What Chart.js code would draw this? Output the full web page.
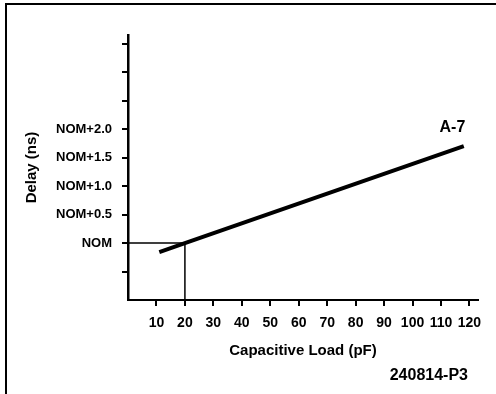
<!DOCTYPE html>
<html>
<head>
<meta charset="utf-8">
<script src="https://cdn.jsdelivr.net/npm/chart.js@4/dist/chart.umd.min.js"></script>
<style>
  html, body { margin: 0; padding: 0; background: #fff; }
  #wrap { position: relative; width: 496px; height: 394px; }
  #frame {
    position: absolute; left: 5px; top: 3px; width: 491px; height: 391px;
    border-top: 2px solid #000; border-left: 2px solid #000; box-sizing: border-box;
  }
  canvas { position: absolute; left: 0; top: 0; }
</style>
</head>
<body>
<div id="wrap">
  <div id="frame"></div>
  <canvas id="chart" width="496" height="394"></canvas>
</div>
<script>
// Delay relative to NOM (ns) against capacitive load (pF)
const loadPf = [11, 20, 118];
const delayNs = [-0.16, 0, 1.70];

// reference lines marking NOM at 20 pF
const refLoad = [0, 20, 20];
const refDelay = [0, 0, -1];

const xTickValues = [10, 20, 30, 40, 50, 60, 70, 80, 90, 100, 110, 120];
const yTickValues = [-0.5, 0, 0.5, 1.0, 1.5, 2.0, 2.5, 3.0, 3.5];
const yTickLabels = ['', 'NOM', 'NOM+0.5', 'NOM+1.0', 'NOM+1.5', 'NOM+2.0', '', '', ''];

const curveName = 'A-7';
const curveLabelAt = [114, 2.02];
const figureId = '240814-P3';

const FONT = "'Liberation Sans', Arial, sans-serif";

const textPlugin = {
  id: 'texts',
  afterDraw: function (chart) {
    const ctx = chart.ctx;
    const xs = chart.scales.x;
    const ys = chart.scales.y;
    ctx.save();
    ctx.fillStyle = '#000';
    ctx.textBaseline = 'middle';
    ctx.font = 'bold 16px ' + FONT;
    ctx.textAlign = 'center';
    ctx.fillText(curveName, xs.getPixelForValue(curveLabelAt[0]), ys.getPixelForValue(curveLabelAt[1]));
    ctx.font = 'bold 16px ' + FONT;
    ctx.textAlign = 'right';
    ctx.fillText(figureId, 468, 376);
    ctx.restore();
  }
};

new Chart(document.getElementById('chart'), {
  type: 'line',
  data: {
    datasets: [
      {
        data: loadPf.map((x, i) => ({x: x, y: delayNs[i]})),
        borderColor: '#000',
        borderWidth: 4,
        pointRadius: 0,
        tension: 0
      },
      {
        data: refLoad.map((x, i) => ({x: x, y: refDelay[i]})),
        borderColor: '#000',
        borderWidth: 1.5,
        pointRadius: 0,
        tension: 0
      }
    ]
  },
  options: {
    responsive: false,
    animation: false,
    layout: {padding: {left: 0, top: 35, right: 18, bottom: 32}},
    plugins: {legend: {display: false}, tooltip: {enabled: false}},
    scales: {
      x: {
        type: 'linear',
        min: 0,
        max: 123,
        afterBuildTicks: function (scale) {
          scale.ticks = xTickValues.map(v => ({value: v}));
        },
        afterFit: function (scale) {
          scale.height = 62;
        },
        ticks: {
          color: '#000',
          font: {family: FONT, size: 14, weight: 'bold'},
          padding: 9,
          maxRotation: 0,
          autoSkip: false,
          callback: function (v) { return String(v); }
        },
        grid: {drawOnChartArea: false, drawTicks: true, tickLength: 6, color: '#000', lineWidth: 2},
        border: {display: true, color: '#000', width: 2},
        title: {
          display: true,
          text: 'Capacitive Load (pF)',
          color: '#000',
          font: {family: FONT, size: 15, weight: 'bold'},
          padding: {top: 1, bottom: 2}
        }
      },
      y: {
        type: 'linear',
        min: -1,
        max: 3.65,
        afterBuildTicks: function (scale) {
          scale.ticks = yTickValues.map(v => ({value: v}));
        },
        afterFit: function (scale) {
          scale.width = 128;
        },
        ticks: {
          color: '#000',
          font: {family: FONT, size: 13, weight: 'bold'},
          padding: 10,
          autoSkip: false,
          callback: function (v, i) { return yTickLabels[i]; }
        },
        grid: {drawOnChartArea: false, drawTicks: true, tickLength: 6, color: '#000', lineWidth: 2},
        border: {display: true, color: '#000', width: 2.5},
        title: {
          display: true,
          text: 'Delay (ns)',
          color: '#000',
          font: {family: FONT, size: 15, weight: 'bold'},
          padding: {top: 23, bottom: 0}
        }
      }
    }
  },
  plugins: [textPlugin]
});
</script>
</body>
</html>
